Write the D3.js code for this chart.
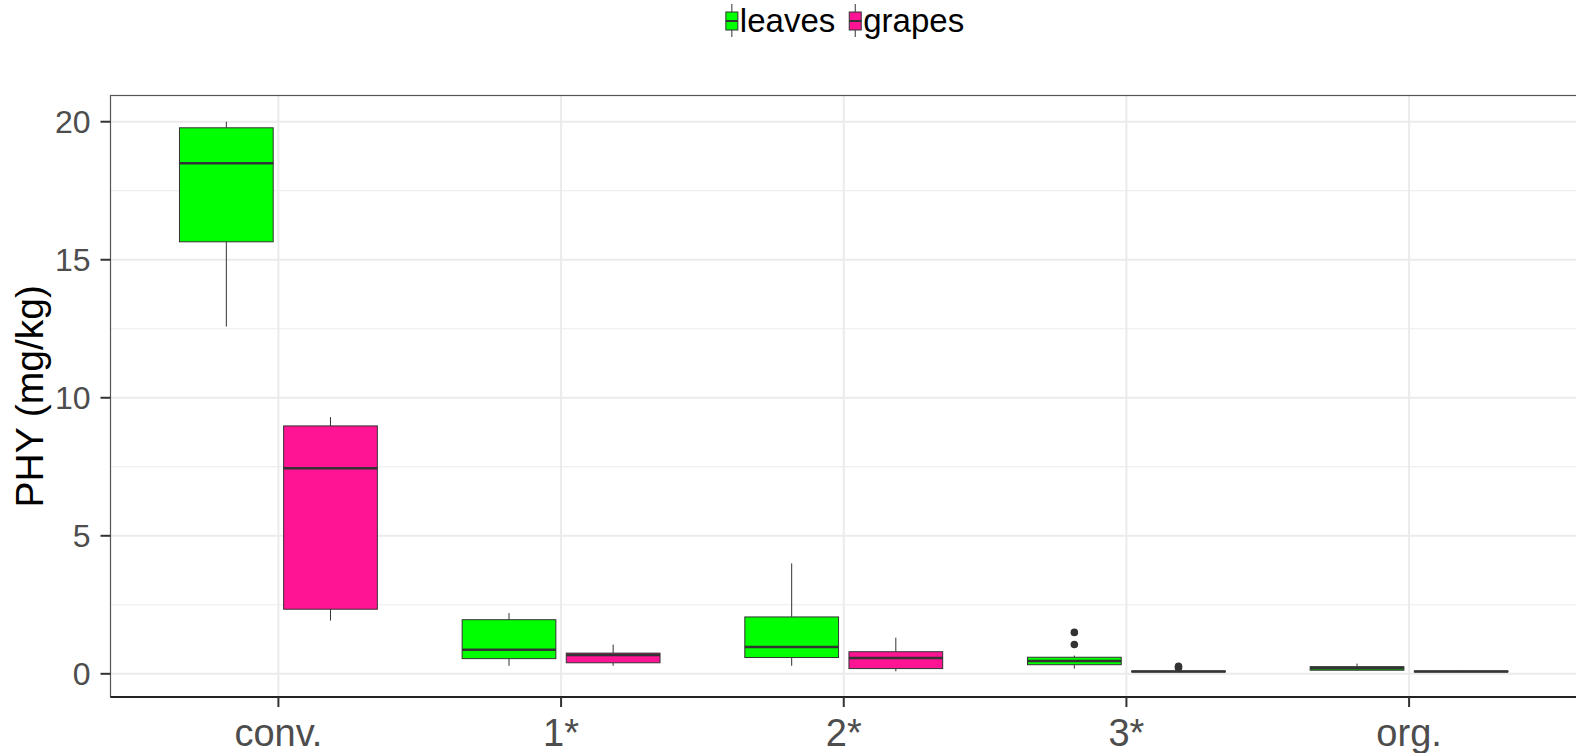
<!DOCTYPE html>
<html>
<head>
<meta charset="utf-8">
<script src="https://cdn.jsdelivr.net/npm/d3@7"></script>
<style>
  body { margin: 0; background: #fff; }
  text { font-family: 'Liberation Sans', Arial, sans-serif; }
</style>
</head>
<body>
<svg class="chart" width="1576" height="753"></svg>
<script>
// categories and groups
const categories = ['conv.', '1*', '2*', '3*', 'org.'];
const groups = ['leaves', 'grapes'];
const groupColors = ['#00FF00', '#FF1493'];

// box stats per category: [lower whisker, q1, median, q3, upper whisker]
const leavesStats = [
  [12.58, 15.65, 18.5, 19.78, 20.0],
  [0.29, 0.55, 0.875, 1.96, 2.2],
  [0.29, 0.59, 0.975, 2.06, 4.0],
  [0.19, 0.33, 0.46, 0.6, 0.66],
  [0.11, 0.13, 0.2, 0.26, 0.37]
];
const grapesStats = [
  [1.93, 2.34, 7.45, 8.98, 9.3],
  [0.29, 0.4, 0.68, 0.75, 1.06],
  [0.09, 0.19, 0.575, 0.8, 1.31],
  [0.06, 0.07, 0.08, 0.1, 0.12],
  [0.06, 0.07, 0.08, 0.1, 0.11]
];
const leavesOutliers = [[], [], [], [1.06, 1.5], []];
const grapesOutliers = [[], [], [], [0.22, 0.27], []];

const yTicks = [0, 5, 10, 15, 20];
const yMinor = [2.5, 7.5, 12.5, 17.5];

const svg = d3.select('.chart');
const panel = { left: 110.5, top: 95.5, bottom: 697, right: 1577 };

const x = d3.scalePoint()
  .domain(categories)
  .range([panel.left, panel.right])
  .padding(0.594);

const xSub = d3.scaleBand()
  .domain(groups)
  .range([-x.step() * 0.35, x.step() * 0.35])
  .paddingInner(0.1);

const y = d3.scaleLinear()
  .domain([-0.84, 20.95])
  .range([panel.bottom, panel.top]);

const color = d3.scaleOrdinal().domain(groups).range(groupColors);

// grid
const grid = svg.append('g');
grid.selectAll('.minor')
  .data(yMinor)
  .enter()
  .append('line')
  .attr('x1', panel.left).attr('x2', 1576)
  .attr('y1', (d) => y(d)).attr('y2', (d) => y(d))
  .attr('stroke', '#EBEBEB').attr('stroke-width', 1);
grid.selectAll('.major')
  .data(yTicks)
  .enter()
  .append('line')
  .attr('x1', panel.left).attr('x2', 1576)
  .attr('y1', (d) => y(d)).attr('y2', (d) => y(d))
  .attr('stroke', '#EBEBEB').attr('stroke-width', 2);
grid.selectAll('.vmajor')
  .data(categories)
  .enter()
  .append('line')
  .attr('x1', (d) => x(d)).attr('x2', (d) => x(d))
  .attr('y1', panel.top).attr('y2', panel.bottom)
  .attr('stroke', '#EBEBEB').attr('stroke-width', 2);

// boxes
const boxData = [];
categories.forEach((c, i) => {
  boxData.push({ cat: c, group: 'leaves', s: leavesStats[i], out: leavesOutliers[i] });
  boxData.push({ cat: c, group: 'grapes', s: grapesStats[i], out: grapesOutliers[i] });
});

const boxes = svg.append('g')
  .selectAll('g')
  .data(boxData)
  .enter()
  .append('g')
  .attr('transform', (d) => 'translate(' + (x(d.cat) + xSub(d.group)) + ',0)');

const bw = xSub.bandwidth();

boxes.append('line')
  .attr('x1', bw / 2).attr('x2', bw / 2)
  .attr('y1', (d) => y(d.s[4])).attr('y2', (d) => y(d.s[3]))
  .attr('stroke', '#333').attr('stroke-width', 1);
boxes.append('line')
  .attr('x1', bw / 2).attr('x2', bw / 2)
  .attr('y1', (d) => y(d.s[1])).attr('y2', (d) => y(d.s[0]))
  .attr('stroke', '#333').attr('stroke-width', 1);
boxes.append('rect')
  .attr('x', 0)
  .attr('width', bw)
  .attr('y', (d) => y(d.s[3]))
  .attr('height', (d) => Math.max(y(d.s[1]) - y(d.s[3]), 0.5))
  .attr('fill', (d) => color(d.group))
  .attr('stroke', '#333')
  .attr('stroke-width', 1);
boxes.append('line')
  .attr('x1', 0).attr('x2', bw)
  .attr('y1', (d) => y(d.s[2])).attr('y2', (d) => y(d.s[2]))
  .attr('stroke', '#333').attr('stroke-width', 2.5);
boxes.selectAll('circle')
  .data((d) => d.out)
  .enter()
  .append('circle')
  .attr('cx', bw / 2)
  .attr('cy', (d) => y(d))
  .attr('r', 3.8)
  .attr('fill', '#333');

// panel border and axes
svg.append('rect')
  .attr('x', panel.left).attr('y', panel.top)
  .attr('width', 1600).attr('height', panel.bottom - panel.top)
  .attr('fill', 'none').attr('stroke', '#555').attr('stroke-width', 1.2);
svg.append('line')
  .attr('x1', panel.left).attr('x2', 1576)
  .attr('y1', panel.bottom).attr('y2', panel.bottom)
  .attr('stroke', '#222').attr('stroke-width', 2);

svg.append('g').selectAll('line')
  .data(yTicks)
  .enter()
  .append('line')
  .attr('x1', panel.left - 10).attr('x2', panel.left)
  .attr('y1', (d) => y(d)).attr('y2', (d) => y(d))
  .attr('stroke', '#333').attr('stroke-width', 2);
svg.append('g').selectAll('text')
  .data(yTicks)
  .enter()
  .append('text')
  .attr('x', panel.left - 20)
  .attr('y', (d) => y(d))
  .attr('dy', '0.36em')
  .attr('text-anchor', 'end')
  .attr('font-size', 32)
  .attr('fill', '#4D4D4D')
  .text((d) => d);

svg.append('g').selectAll('line')
  .data(categories)
  .enter()
  .append('line')
  .attr('x1', (d) => x(d)).attr('x2', (d) => x(d))
  .attr('y1', panel.bottom).attr('y2', panel.bottom + 10)
  .attr('stroke', '#333').attr('stroke-width', 2);
svg.append('g').selectAll('text')
  .data(categories)
  .enter()
  .append('text')
  .attr('x', (d) => x(d))
  .attr('y', 746)
  .attr('text-anchor', 'middle')
  .attr('font-size', 38)
  .attr('fill', '#4D4D4D')
  .text((d) => d);

svg.append('text')
  .attr('transform', 'translate(43,' + (panel.top + panel.bottom) / 2 + ') rotate(-90)')
  .attr('text-anchor', 'middle')
  .attr('font-size', 39)
  .attr('fill', '#000')
  .text('PHY (mg/kg)');

// legend
const legend = svg.append('g');
let lx = 0;
groups.forEach((g, i) => {
  const item = legend.append('g').attr('transform', 'translate(' + lx + ',0)');
  item.append('line')
    .attr('x1', 6).attr('x2', 6).attr('y1', 4).attr('y2', 37)
    .attr('stroke', '#333').attr('stroke-width', 1);
  item.append('rect')
    .attr('x', 0).attr('y', 12).attr('width', 12).attr('height', 18)
    .attr('fill', color(g)).attr('stroke', '#333').attr('stroke-width', 1);
  item.append('line')
    .attr('x1', 0).attr('x2', 12).attr('y1', 21).attr('y2', 21)
    .attr('stroke', '#333').attr('stroke-width', 2);
  const t = item.append('text')
    .attr('x', 14).attr('y', 32)
    .attr('font-size', 33)
    .attr('fill', '#000')
    .text(g);
  lx += 14 + t.node().getComputedTextLength() + 14;
});
const legendWidth = lx - 14;
legend.attr('transform', 'translate(' + (845 - legendWidth / 2) + ',0)');
</script>
</body>
</html>
